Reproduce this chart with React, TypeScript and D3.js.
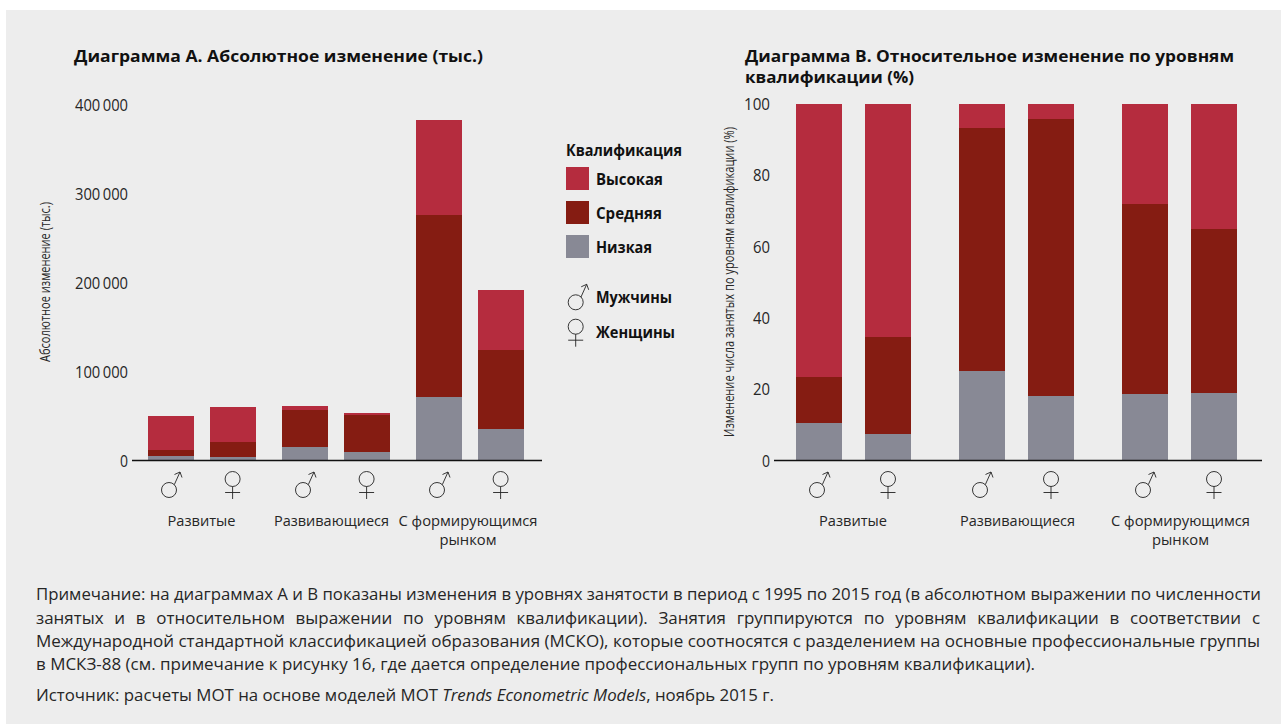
import { useMemo } from 'react';
import type { ReactNode } from 'react';
import * as d3 from 'd3';

// Stacked bars: employment change by skill level, country group and sex
const groups = ['Развитые', 'Развивающиеся', 'С формирующимся рынком'];
const sexes = ['male', 'female'];
const skillKeys = ['low', 'mid', 'high'];

const absLow = [4900, 3700, 15000, 9400, 71200, 35200];
const absMid = [6700, 16900, 41600, 41500, 204600, 89000];
const absHigh = [38200, 39300, 4400, 2300, 106800, 67400];

const pctLow = [10.5, 7.4, 25.0, 18.0, 18.6, 18.9];
const pctMid = [12.9, 27.2, 68.3, 77.8, 53.3, 46.0];
const pctHigh = [76.6, 65.4, 6.7, 4.2, 28.1, 35.1];

const absTicks = [0, 100000, 200000, 300000, 400000];
const absTickLabels = ['0', '100\u2009000', '200\u2009000', '300\u2009000', '400\u2009000'];
const pctTicks = [0, 20, 40, 60, 80, 100];

const groupLabels = [
  { lines: ['Развитые'], widths: [68] },
  { lines: ['Развивающиеся'], widths: [115] },
  { lines: ['С формирующимся', 'рынком'], widths: [139, 57] },
];

const noteLines = [
  'Примечание: на диаграммах А и В показаны изменения в уровнях занятости в период с 1995 по 2015 год (в абсолютном выражении по численности',
  'занятых и в относительном выражении по уровням квалификации). Занятия группируются по уровням квалификации в соответствии с',
  'Международной стандартной классификацией образования (МСКО), которые соотносятся с разделением на основные профессиональные группы',
  'в МСКЗ-88 (см. примечание к рисунку 16, где дается определение профессиональных групп по уровням квалификации).',
];
const noteWidths = [1225, 1224, 1224, 999];
const noteBaselines = [600, 624, 647, 670];

const COLORS: Record<string, string> = { high: '#b52c3e', mid: '#851c12', low: '#888995' };
const BG = '#ededed';
const TEXT = '#262626';
const FONT = '"Open Sans", "Noto Sans", sans-serif';
const BASE_Y = 460.5;
const BAR_W = 46;

function MaleIcon({ x, y }: { x: number; y: number }) {
  return (
    <g transform={`translate(${x},${y})`} fill="none" stroke="#222" strokeWidth={0.9}>
      <circle cx={-2} cy={0} r={7.5} />
      <path d="M3.3,-5.3 L9,-18 M3.5,-15.5 L9,-18 L11,-12.5" />
    </g>
  );
}

function FemaleIcon({ x, y }: { x: number; y: number }) {
  return (
    <g transform={`translate(${x},${y})`} fill="none" stroke="#222" strokeWidth={0.9}>
      <circle cx={0} cy={-11} r={7.5} />
      <path d="M0,-3.5 L0,9 M-7.5,2.5 L7.5,2.5" />
    </g>
  );
}

interface LabelProps {
  x: number;
  y: number;
  w: number;
  size: number;
  anchor?: 'start' | 'middle' | 'end';
  bold?: boolean;
  wordSpacing?: number;
  children: ReactNode;
}

// textLength keeps the wider substitute font on the same width as the original
function Label({ x, y, w, size, anchor = 'start', bold = false, wordSpacing = 0, children }: LabelProps) {
  return (
    <text
      x={x}
      y={y}
      textAnchor={anchor}
      fontSize={size}
      fontWeight={bold ? 700 : 400}
      fill={bold ? '#111' : TEXT}
      textLength={w}
      lengthAdjust="spacingAndGlyphs"
      style={{ wordSpacing }}
    >
      {children}
    </text>
  );
}

interface PanelProps {
  low: number[];
  mid: number[];
  high: number[];
  yMax: number;
  yTop: number;
  ticks: number[];
  tickLabels: string[];
  tickRight: number;
  tickWidths: number[];
  startRange: [number, number];
  innerStep: number;
  axisRange: [number, number];
  labelCenters: number[];
}

function StackedPanel(props: PanelProps) {
  const { low, mid, high, yMax, yTop, ticks, tickLabels, tickRight, tickWidths, startRange, innerStep, axisRange, labelCenters } = props;

  const y = useMemo(() => d3.scaleLinear().domain([0, yMax]).range([BASE_Y, yTop]), [yMax, yTop]);
  const x0 = d3.scalePoint<string>().domain(groups).range(startRange);
  const x1 = d3.scalePoint<string>().domain(sexes).range([0, innerStep]);

  const rows = groups.flatMap((g, i) =>
    sexes.map((s, j) => {
      const idx = i * 2 + j;
      return { group: g, sex: s, low: low[idx], mid: mid[idx], high: high[idx] };
    })
  );
  const series = d3.stack<any>().keys(skillKeys)(rows);

  return (
    <g>
      {series.map((layer) => (
        <g key={layer.key} fill={COLORS[layer.key]} shapeRendering="crispEdges">
          {layer.map((d, i) => (
            <rect
              key={i}
              x={(x0(d.data.group) || 0) + (x1(d.data.sex) || 0)}
              y={y(d[1])}
              width={BAR_W}
              height={y(d[0]) - y(d[1])}
            />
          ))}
        </g>
      ))}
      <line x1={axisRange[0]} x2={axisRange[1]} y1={BASE_Y} y2={BASE_Y} stroke="#111" strokeWidth={1.4} />
      {ticks.map((t, i) => (
        <Label key={t} x={tickRight} y={y(t) + 6} w={tickWidths[i]} size={16} anchor="end">
          {tickLabels[i]}
        </Label>
      ))}
      {rows.map((r, i) => {
        const cx = (x0(r.group) || 0) + (x1(r.sex) || 0) + BAR_W / 2;
        return r.sex === 'male' ? (
          <MaleIcon key={i} x={cx} y={490} />
        ) : (
          <FemaleIcon key={i} x={cx} y={490} />
        );
      })}
      {groupLabels.map((g, i) =>
        g.lines.map((line, k) => (
          <Label key={line} x={labelCenters[i]} y={526 + k * 19} w={g.widths[k]} size={15} anchor="middle">
            {line}
          </Label>
        ))
      )}
    </g>
  );
}

export default function App() {
  return (
    <svg
      width={1281}
      height={724}
      style={{ position: 'fixed', left: 0, top: 0, background: '#fff' }}
      fontFamily={FONT}
    >
      <rect x={6} y={10} width={1275} height={714} fill={BG} />

      <Label x={74} y={62} w={409} size={16.5} bold>Диаграмма А. Абсолютное изменение (тыс.)</Label>
      <Label x={745} y={62} w={489} size={16.5} bold>Диаграмма В. Относительное изменение по уровням</Label>
      <Label x={745} y={83} w={169} size={16.5} bold>квалификации (%)</Label>

      <StackedPanel
        low={absLow}
        mid={absMid}
        high={absHigh}
        yMax={400000}
        yTop={104.5}
        ticks={absTicks}
        tickLabels={absTickLabels}
        tickRight={128}
        tickWidths={[8, 53, 53, 53, 53]}
        startRange={[148, 416]}
        innerStep={61.6}
        axisRange={[132, 542]}
        labelCenters={[201.5, 331.5, 468]}
      />
      <StackedPanel
        low={pctLow}
        mid={pctMid}
        high={pctHigh}
        yMax={100}
        yTop={104}
        ticks={pctTicks}
        tickLabels={pctTicks.map(String)}
        tickRight={770}
        tickWidths={[8, 17, 17, 17, 17, 26]}
        startRange={[796, 1122]}
        innerStep={69}
        axisRange={[774, 1262]}
        labelCenters={[853, 1017.5, 1180.5]}
      />

      <g transform="translate(50,282) rotate(-90)">
        <Label x={0} y={0} w={160} size={14} anchor="middle">Абсолютное изменение (тыс.)</Label>
      </g>
      <g transform="translate(734,282) rotate(-90)">
        <Label x={0} y={0} w={310} size={14} anchor="middle">Изменение числа занятых по уровням квалификации (%)</Label>
      </g>

      <Label x={566} y={156} w={116} size={15.5} bold>Квалификация</Label>
      {['high', 'mid', 'low'].map((k, i) => (
        <rect key={k} x={566} y={167 + i * 34} width={23} height={23} fill={COLORS[k]} />
      ))}
      <Label x={596} y={185} w={67} size={15.5} bold>Высокая</Label>
      <Label x={596} y={219} w={66} size={15.5} bold>Средняя</Label>
      <Label x={596} y={253} w={56} size={15.5} bold>Низкая</Label>
      <MaleIcon x={577.7} y={302.3} />
      <FemaleIcon x={575.7} y={337.7} />
      <Label x={596} y={303} w={76} size={15.5} bold>Мужчины</Label>
      <Label x={596} y={338} w={79} size={15.5} bold>Женщины</Label>

      {noteLines.map((line, i) => (
        <Label key={i} x={36} y={noteBaselines[i]} w={noteWidths[i]} size={16} wordSpacing={i === 1 ? 6 : 0}>
          {line}
        </Label>
      ))}
      <Label x={36} y={701} w={738} size={16}>
        Источник: расчеты МОТ на основе моделей МОТ <tspan fontStyle="italic">Trends Econometric Models</tspan>, ноябрь 2015 г.
      </Label>
    </svg>
  );
}
